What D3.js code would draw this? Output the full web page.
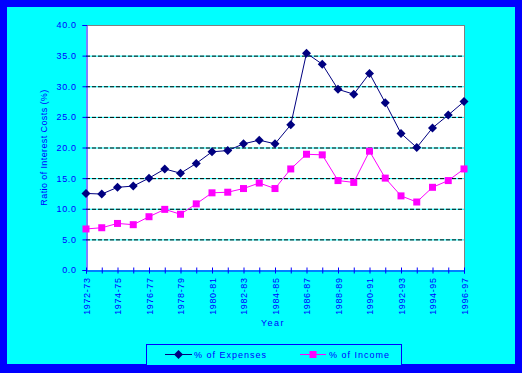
<!DOCTYPE html>
<html><head><meta charset="utf-8">
<script src="https://cdn.jsdelivr.net/npm/d3@7"></script>
<style>html,body{margin:0;padding:0;background:#fff}svg{display:block}text{font-family:"Liberation Sans",Arial,sans-serif}</style>
</head><body>
<script>
const years = ["1972-73","1973-74","1974-75","1975-76","1976-77","1977-78","1978-79","1979-80","1980-81","1981-82","1982-83","1983-84","1984-85","1985-86","1986-87","1987-88","1988-89","1989-90","1990-91","1991-92","1992-93","1993-94","1994-95","1995-96","1996-97"];
const expenses = [12.5,12.4,13.5,13.7,15.0,16.5,15.8,17.4,19.3,19.5,20.6,21.2,20.6,23.7,35.4,33.6,29.5,28.7,32.1,27.3,22.3,20.0,23.2,25.3,27.5];
const income = [6.7,6.9,7.6,7.4,8.7,9.9,9.1,10.8,12.6,12.7,13.3,14.2,13.3,16.5,18.9,18.8,14.6,14.3,19.4,15.0,12.1,11.1,13.5,14.6,16.5];
const yTicks = [0,5,10,15,20,25,30,35,40];
const seriesNames = ["% of Expenses","% of Income"];

const W=522,H=373;
const blue="#0000FF", navy="#000080", mag="#FF00FF", cyan="#00FFFF";
const svg=d3.select("body").append("svg").attr("width",W).attr("height",H);
svg.append("rect").attr("width",W).attr("height",H).attr("fill",blue);
svg.append("rect").attr("x",7).attr("y",7).attr("width",508).attr("height",357).attr("fill",cyan);

const L=86,R=464,T=25,B=270;
const x=d3.scalePoint().domain(years).range([L,R]);
const y=d3.scaleLinear().domain([0,40]).range([B,T]);

svg.append("rect").attr("x",L).attr("y",T).attr("width",R-L).attr("height",B-T).attr("fill","#fff");
const g=svg.append("g");
yTicks.filter(t=>t>0&&t<40).forEach(t=>{
  g.append("line").attr("x1",L).attr("x2",R).attr("y1",y(t)+0.5).attr("y2",y(t)+0.5).attr("stroke",cyan);
  g.append("line").attr("x1",L).attr("x2",R).attr("y1",y(t)+0.5).attr("y2",y(t)+0.5).attr("stroke","#000").attr("stroke-dasharray","4,2");
});
svg.append("line").attr("x1",L).attr("x2",R+0.5).attr("y1",T+0.5).attr("y2",T+0.5).attr("stroke","#808080");
svg.append("line").attr("x1",R+0.5).attr("x2",R+0.5).attr("y1",T).attr("y2",B).attr("stroke","#808080");

const ya=svg.append("g").attr("transform",`translate(${L+0.5},0)`)
  .call(d3.axisLeft(y).tickValues(yTicks).tickFormat(d3.format(".1f")).tickSize(4).tickPadding(6));
ya.select(".domain").attr("stroke",blue);
ya.selectAll(".tick line").attr("stroke",blue);
ya.selectAll(".tick text").attr("fill",blue).attr("font-size",9).attr("letter-spacing","0.6px");

const xa=svg.append("g").attr("transform",`translate(0,${B+0.5})`)
  .call(d3.axisBottom(x).tickSize(3).tickFormat((d,i)=>i%2===0?d:""));
xa.select(".domain").attr("stroke",blue);
xa.selectAll(".tick line").attr("stroke",blue).attr("y1",-3).attr("y2",3);
xa.selectAll(".tick text").attr("fill",blue).attr("font-size",9).attr("letter-spacing","0.6px")
  .attr("transform","rotate(-90)").attr("text-anchor","end").attr("x",-7).attr("y",0).attr("dy","0.35em");

svg.append("text").attr("transform",`translate(47,${(T+B)/2}) rotate(-90)`).attr("text-anchor","middle")
  .attr("fill",blue).attr("font-size",9).attr("letter-spacing","0.4px").text("Ratio of Interest Costs (%)");
svg.append("text").attr("x",(L+R)/2-2).attr("y",326).attr("text-anchor","middle")
  .attr("fill",blue).attr("font-size",9).attr("letter-spacing","1.5px").text("Year");

const line=d3.line().x((d,i)=>x(years[i])).y(d=>y(d));
svg.append("path").datum(expenses).attr("d",line).attr("fill","none").attr("stroke",navy).attr("stroke-width",1);
svg.append("path").datum(income).attr("d",line).attr("fill","none").attr("stroke",mag).attr("stroke-width",1);
const diamondPath="M0,-4.5L4.5,0L0,4.5L-4.5,0Z";
svg.append("g").selectAll("path").data(expenses).join("path")
  .attr("transform",(d,i)=>`translate(${x(years[i])},${y(d)})`).attr("d",diamondPath).attr("fill",navy);
svg.append("g").selectAll("rect").data(income).join("rect")
  .attr("x",(d,i)=>x(years[i])-3.5).attr("y",d=>y(d)-3.5).attr("width",7).attr("height",7).attr("fill",mag);

svg.append("rect").attr("x",146.5).attr("y",344.5).attr("width",255).attr("height",21).attr("fill",cyan).attr("stroke",blue);
const lg=svg.append("g");
lg.append("line").attr("x1",165).attr("x2",192).attr("y1",354.5).attr("y2",354.5).attr("stroke",navy);
lg.append("path").attr("transform","translate(178.5,354.5)").attr("d",diamondPath).attr("fill",navy);
lg.append("text").attr("x",194).attr("y",357.5).attr("fill",blue).attr("font-size",9).attr("letter-spacing","1px").text(seriesNames[0]);
lg.append("line").attr("x1",300).attr("x2",326).attr("y1",354.5).attr("y2",354.5).attr("stroke",mag);
lg.append("rect").attr("x",309.5).attr("y",351).attr("width",7).attr("height",7).attr("fill",mag);
lg.append("text").attr("x",329).attr("y",357.5).attr("fill",blue).attr("font-size",9).attr("letter-spacing","1px").text(seriesNames[1]);
</script>
</body></html>
